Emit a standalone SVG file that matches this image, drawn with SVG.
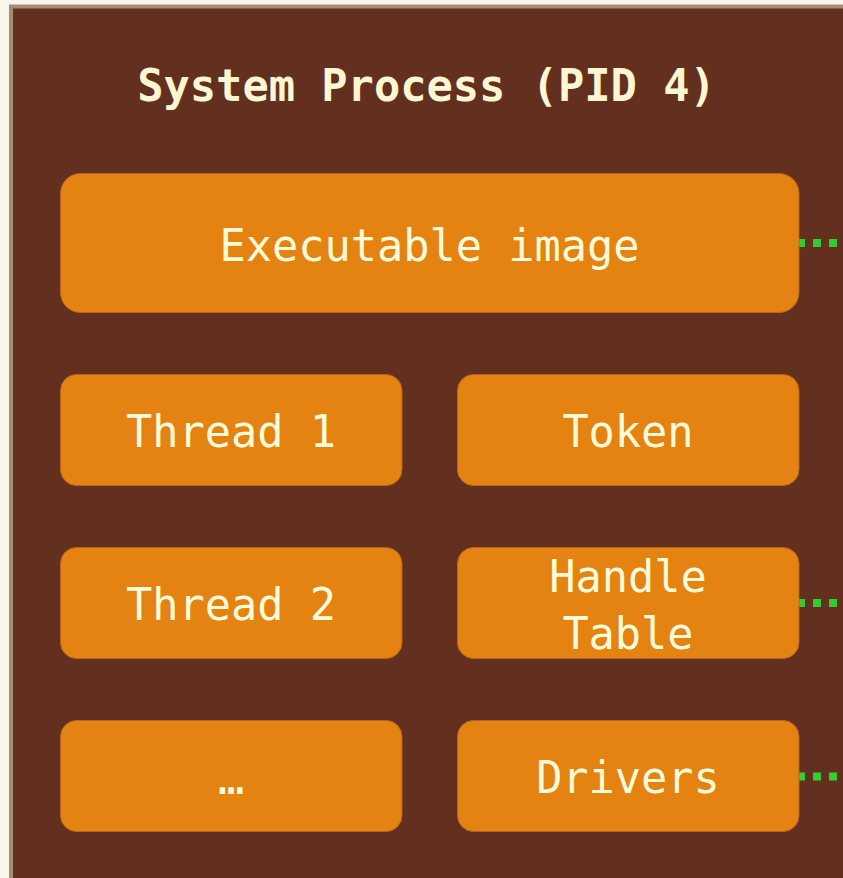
<svg xmlns="http://www.w3.org/2000/svg" width="843" height="878" viewBox="0 0 843 878">
  <style>
    .bg { fill: #faf5ea; }
    .container { fill: #632f1f; stroke: #a38d72; stroke-width: 4; }
    .box { fill: #e48312; stroke: #b9661b; stroke-width: 1; }
    .label { font-family: "DejaVu Sans Mono", "Liberation Mono", monospace; font-size: 43.6px; fill: #fffbd9; text-anchor: middle; }
    .title { font-family: "DejaVu Sans Mono", "Liberation Mono", monospace; font-size: 43.7px; font-weight: bold; fill: #fdf6d3; text-anchor: middle; }
    .link { stroke: #33cc33; stroke-width: 8; stroke-dasharray: 8 8; fill: none; }
  </style>
  <rect class="bg" x="0" y="0" width="843" height="878"/>
  <g id="system-process">
    <rect class="container" x="11" y="6.5" width="900" height="940"/>
    <text class="title" x="426.5" y="101">System Process (PID 4)</text>
  </g>
  <g id="connectors">
    <line class="link" x1="797" y1="243" x2="850" y2="243"/>
    <line class="link" x1="797" y1="603" x2="850" y2="603"/>
    <line class="link" x1="797" y1="776.5" x2="850" y2="776.5"/>
  </g>
  <g id="executable-image">
    <rect class="box" x="60.5" y="173.5" width="738.5" height="139" rx="20"/>
    <text class="label" x="429.5" y="261">Executable image</text>
  </g>
  <g id="thread-1">
    <rect class="box" x="60.5" y="374.5" width="341.5" height="111" rx="16"/>
    <text class="label" x="231" y="447">Thread 1</text>
  </g>
  <g id="token">
    <rect class="box" x="457.5" y="374.5" width="341.5" height="111" rx="16"/>
    <text class="label" x="628" y="447">Token</text>
  </g>
  <g id="thread-2">
    <rect class="box" x="60.5" y="547.5" width="341.5" height="111" rx="16"/>
    <text class="label" x="231" y="620">Thread 2</text>
  </g>
  <g id="handle-table">
    <rect class="box" x="457.5" y="547.5" width="341.5" height="111" rx="16"/>
    <text class="label" x="628" y="592">Handle</text>
    <text class="label" x="628" y="649">Table</text>
  </g>
  <g id="ellipsis">
    <rect class="box" x="60.5" y="720.5" width="341.5" height="111" rx="16"/>
    <text class="label" x="231" y="794">…</text>
  </g>
  <g id="drivers">
    <rect class="box" x="457.5" y="720.5" width="341.5" height="111" rx="16"/>
    <text class="label" x="628" y="793">Drivers</text>
  </g>
</svg>
